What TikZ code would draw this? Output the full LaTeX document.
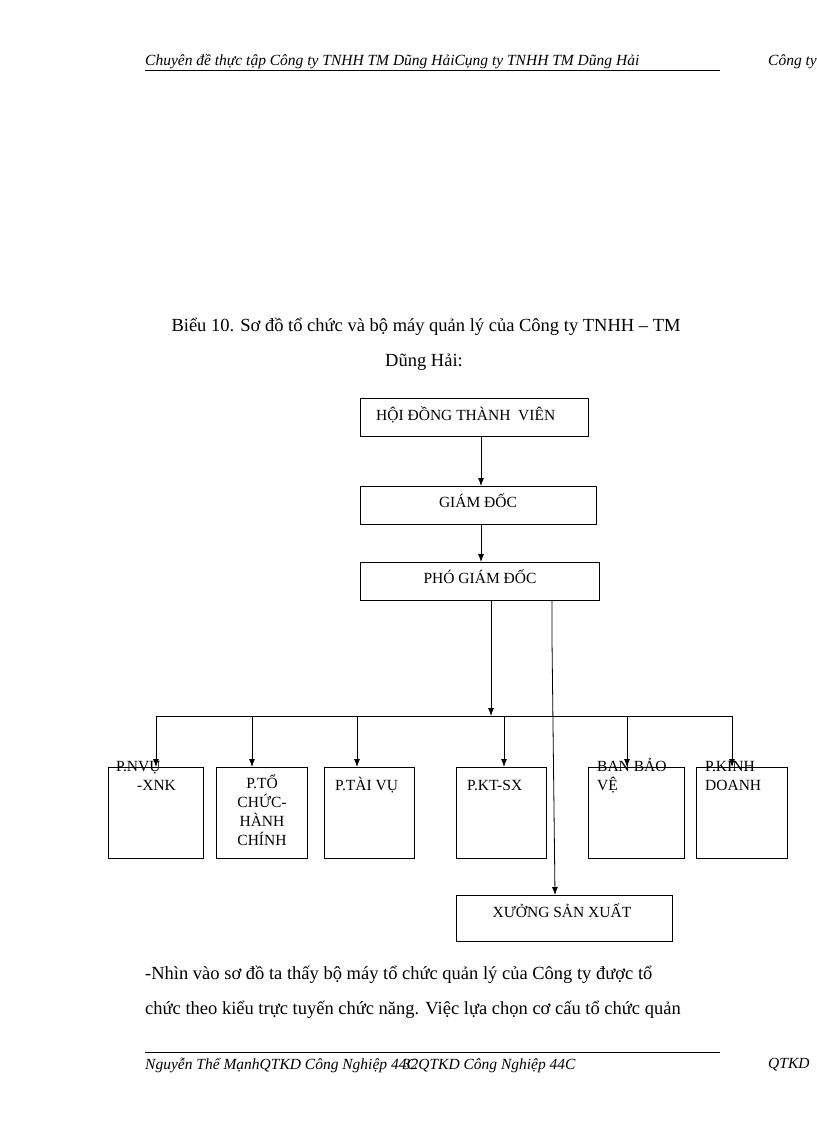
\documentclass[tikz,border=0pt]{standalone}
\usepackage{fontspec}
\setmainfont{Liberation Serif}
\usetikzlibrary{arrows.meta}
\begin{document}
\begin{tikzpicture}[x=1pt,y=-1pt,
  bx/.style={draw,line width=0.8pt},
  tx/.style={font=\fontsize{15.5}{19}\selectfont,inner sep=0pt,anchor=base west,align=left},
  ar/.style={-{Latex[length=8pt,width=6pt]},line width=0.8pt},
  ln/.style={line width=0.8pt},
  hf/.style={anchor=west,font=\itshape\fontsize{15.5}{17}\selectfont,inner sep=0pt},
  bd/.style={anchor=west,font=\fontsize{18.5}{21}\selectfont,inner sep=0pt}]
\useasboundingbox (0,0) rectangle (816,1123);
% header/footer
\node[hf] (hd) at (145,62) {Chuyên đề thực tập Công ty TNHH TM Dũng HảiCụng ty TNHH TM Dũng Hải};
\node[hf] (hd2) at (768,62) {Công ty};
\draw[line width=0.5pt] (145,70) -- (720,70);
\draw[line width=0.5pt] (145,1052) -- (720,1052);
\node[hf] (ft) at (145,1065) {Nguyễn Thế MạnhQTKD Công Nghiệp 44C\hspace{-14pt}32QTKD Công Nghiệp 44C};
\node[hf] (ft2) at (768,1065) {QTKD};
% title
\node[bd,anchor=center] (t1) at (426,327) {Biểu 10. Sơ đồ tổ chức và bộ máy quản lý của Công ty TNHH -- TM};
\node[bd,anchor=center] (t2) at (424,362) {Dũng Hải:};
% boxes
\draw[bx] (360,398) rectangle (588,436); \node[tx] (hd) at (376,420) {HỘI ĐỒNG THÀNH\ \ VIÊN};
\draw[bx] (360,486) rectangle (596,524); \node[tx,anchor=base] (gd) at (478,507) {GIÁM ĐỐC};
\draw[bx] (360,562) rectangle (599,600); \node[tx,anchor=base] (pgd) at (480,583) {PHÓ GIÁM ĐỐC};
\coordinate (a1) at (481,436); \coordinate (a2) at (481,486);
\coordinate (b1) at (481,524); \coordinate (b2) at (481,562);
\draw[ar] (a1) -- (a2); \draw[ar] (b1) -- (b2);
\coordinate (c1) at (491,600); \coordinate (c2) at (491,716);
\draw[ar] (c1) -- (c2);
\coordinate (d1) at (552,600); \coordinate (d2) at (555,895);
\draw[ar] (d1) -- (552,640) -- (d2);
\coordinate (hl) at (156,716); \coordinate (hr) at (732,716);
\draw[ln] (hl) -- (hr);
\foreach \x in {156,252,357,504,627,732}{\draw[ar] (\x,716) -- (\x,767);}
\draw[bx] (108,767) rectangle (203,858);
\draw[bx] (216,767) rectangle (307,858);
\draw[bx] (324,767) rectangle (414,858);
\draw[bx] (456,767) rectangle (546,858);
\draw[bx] (588,767) rectangle (684,858);
\draw[bx] (696,767) rectangle (787,858);
\node[tx] (n1) at (116,790) {P.NVỤ\\\hspace{21pt}-XNK};
\node[tx,align=center,anchor=north] (n2) at (262,775) {P.TỔ\\CHỨC-\\HÀNH\\CHÍNH};
\node[tx] (n3) at (335,790) {P.TÀI VỤ};
\node[tx] (n4) at (467,790) {P.KT-SX};
\node[tx] (n5) at (597,790) {BAN BẢO\\VỆ};
\node[tx] (n6) at (705,790) {P.KINH\\DOANH};
\draw[bx] (456,895) rectangle (672,941);
\node[tx,anchor=base] (xs) at (562,917) {XƯỞNG SẢN XUẤT};
% body
\node[bd] (p1) at (145,975) {-Nhìn vào sơ đồ ta thấy bộ máy tổ chức quản lý của Công ty được tổ};
\node[bd] (p2) at (145,1010) {chức theo kiểu trực tuyến chức năng. Việc lựa chọn cơ cấu tổ chức quản};
\end{tikzpicture}
\end{document}
